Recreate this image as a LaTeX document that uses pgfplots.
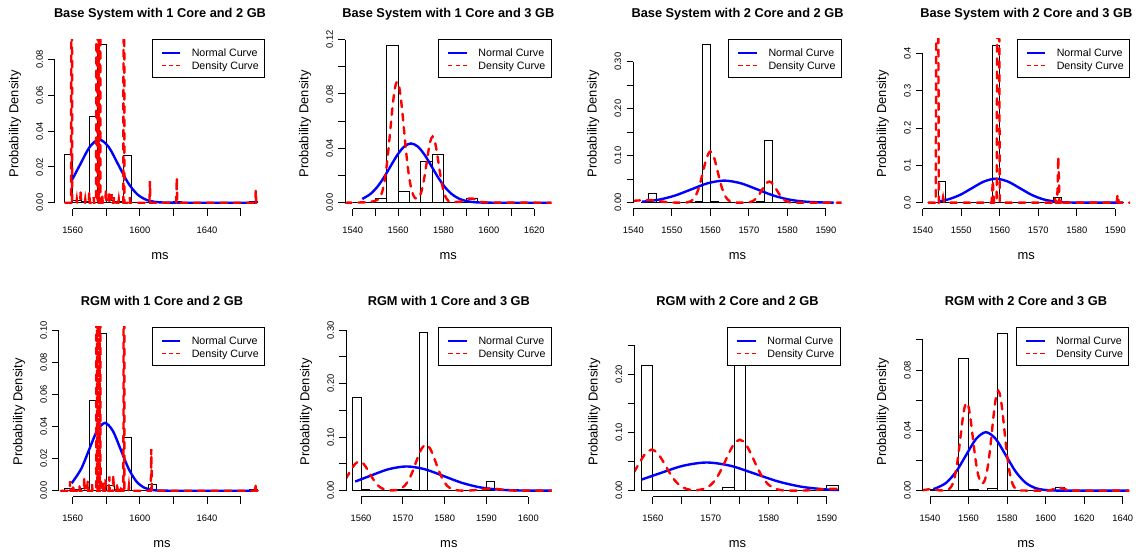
\documentclass[border=0pt]{standalone}
\usepackage{pgfplots}
\pgfplotsset{compat=1.18}
\usepackage{fontspec}
\setmainfont{Liberation Sans}
\definecolor{rred}{RGB}{255,0,0}
\definecolor{rblue}{RGB}{0,0,255}
\tikzset{axl/.style={black, line width=0.75pt}}
\pgfplotsset{
  rp/.style={
    scale only axis, height=127.5pt, anchor=south west,
    axis lines*=left, axis line style={draw=none,-},
    tick align=outside, major tick length=5pt, minor tick num=0,
    every tick/.style={black, line width=0.75pt},
    clip mode=individual, scaled ticks=false,
    xlabel={ms}, ylabel={Probability Density},
    label style={font=\fontsize{9.7}{11}\selectfont},
    x label style={at={([yshift=-35pt]axis description cs:0.5,0)}, anchor=center},
    y label style={at={([xshift=-30pt]axis description cs:0,0.5)}, anchor=center},
    title style={at={([yshift=10.2pt]axis description cs:0.5,1)}, anchor=base, font=\bfseries\fontsize{9.6}{11}\selectfont},
    tick label style={font=\fontsize{7}{8}\selectfont, inner sep=0pt},
    xticklabel style={anchor=north, yshift=-8.5pt},
    yticklabel style={rotate=90, anchor=south},
    yticklabel shift=3.8pt,
    legend style={at={(1,1)}, anchor=north east, draw=black, line width=0.75pt, fill=white,
      inner xsep=4.3pt, inner ysep=5pt, row sep=0.3pt, font=\fontsize{8}{9}\selectfont,
      nodes={inner sep=0pt, text height=7.9pt, text depth=1.3pt, anchor=base west}, /tikz/column sep=0pt},
    legend cell align=left,
  },
  hist/.style={ybar interval, draw=black, fill=none, line width=0.7pt},
  normal/.style={color=rblue, line width=1.8pt, smooth, no markers},
  dens/.style={color=rred, line width=1.8pt, line cap=round, dash pattern=on 5pt off 5pt, no markers},
}
\newcommand{\rlegend}{%
  \addlegendimage{legend image code/.code={\draw[rblue, solid, line width=1.1pt] (2.7pt,2.9pt) -- (16.7pt,2.9pt); \path[draw=none] (0pt,0pt) -- (25.4pt,0pt);}}
  \addlegendentry{Normal Curve}
  \addlegendimage{legend image code/.code={\draw[rred, solid, line width=1.3pt] (2.7pt,2.9pt) -- (5.9pt,2.9pt) (8.2pt,2.9pt) -- (11.4pt,2.9pt) (13.6pt,2.9pt) -- (16.7pt,2.9pt); \path[draw=none] (0pt,0pt) -- (25.4pt,0pt);}}
  \addlegendentry{Density Curve}}
\begin{document}
\begin{tikzpicture}
\useasboundingbox (0,0) rectangle (852pt,416.25pt);

% ---------- Panel 1 ----------
\begin{axis}[rp, at={(41.25pt,259.5pt)}, width=157.5pt,
  title={Base System with 1 Core and 2 GB},
  xmin=1549.5, xmax=1674.5, ymin=-0.0035, ymax=0.0915,
  xtick={1560,1580,1600,1620,1640,1660}, xticklabels={1560,,1600,,1640,},
  ytick={0,0.02,0.04,0.06,0.08}, yticklabels={0.00,0.02,0.04,0.06,0.08}]
\addplot[hist, forget plot] coordinates {(1555,0.0272) (1560,0.0013) (1565,0.0007) (1570,0.0481) (1575,0.0885) (1580,0.0013) (1585,0.0007) (1590,0.0262) (1595,0) (1600,0) (1605,0.0007) (1610,0) (1615,0) (1620,0.0007) (1625,0) (1630,0) (1635,0) (1640,0) (1645,0) (1650,0) (1655,0) (1660,0) (1665,0.0007) (1670,0)};
\addplot[normal, forget plot] coordinates {(1559.4,0.01232) (1564.5,0.02141) (1570.15,0.03115) (1575.8,0.0353) (1581.45,0.03115) (1587.1,0.02141) (1592.75,0.01146) (1598.4,0.00478) (1604.05,0.00155) (1609.7,0.00039) (1615.35,0.00008) (1621,0.00001) (1640,0) (1669.5,0)};
\addplot[dens, forget plot] coordinates {(1555.5,0) (1559.1,0) (1559.4,0.5) (1559.7,0) (1562.2,0) (1562.5,0.002) (1562.8,0) (1564.5,0) (1564.8,0.0075) (1565.1,0) (1567.2,0) (1567.5,0.002) (1567.8,0) (1569.6,0) (1569.9,0.006) (1570.2,0) (1572.2,0) (1572.5,0.003) (1572.8,0) (1574.0,0) (1574.3,0.5) (1574.6,0) (1575.0,0) (1575.3,0.5) (1575.6,0) (1576.0,0) (1576.3,0.5) (1576.6,0) (1577.3,0) (1577.6,0.004) (1577.9,0) (1579.5,0) (1579.8,0.0075) (1580.1,0) (1581.5,0) (1581.8,0.0066) (1582.1,0) (1582.9,0) (1583.2,0.0047) (1583.5,0) (1584.3,0) (1584.6,0.003) (1584.9,0) (1587.2,0) (1587.5,0.002) (1587.8,0) (1590.2,0) (1590.5,0.5) (1590.8,0) (1593.7,0) (1594,0.003) (1594.3,0) (1605.7,0) (1606,0.012) (1606.3,0) (1621.7,0) (1622,0.014) (1622.3,0) (1668.7,0) (1669,0.007) (1669.3,0) (1670.5,0)};
\rlegend
\draw[axl] ({axis cs:1560,0}|-{rel axis cs:0,0}) -- ({axis cs:1660,0}|-{rel axis cs:0,0});
\draw[axl] ({rel axis cs:0,0}|-{axis cs:1560,0}) -- ({rel axis cs:0,0}|-{axis cs:1560,0.08});
\end{axis}

% ---------- Panel 2 ----------
\begin{axis}[rp, at={(258.75pt,259.5pt)}, width=155pt,
  title={Base System with 1 Core and 3 GB},
  xmin=1536.6, xmax=1627.7, ymin=-0.0046, ymax=0.1204,
  xtick={1540,1550,1560,1570,1580,1590,1600,1610,1620}, xticklabels={1540,,1560,,1580,,1600,,1620},
  ytick={0,0.02,0.04,0.06,0.08,0.10,0.12}, yticklabels={0.00,,0.04,,0.08,,0.12}]
\addplot[hist, forget plot] coordinates {(1540,0) (1545,0) (1550,0.003) (1555,0.1158) (1560,0.0086) (1565,0) (1570,0.0303) (1575,0.0358) (1580,0) (1585,0) (1590,0.0032) (1595,0)};
\addplot[normal, forget plot] coordinates {(1544.2,0.00276) (1547.7,0.0063) (1550.7,0.01137) (1553.7,0.01845) (1556.7,0.0269) (1559.7,0.0352) (1562.7,0.0413) (1565.7,0.0436) (1568.7,0.0413) (1571.7,0.0352) (1574.7,0.0269) (1577.7,0.01845) (1580.7,0.01137) (1583.7,0.0063) (1586.7,0.00313) (1589.7,0.0014) (1592.7,0.00056) (1595.7,0.0002) (1601.7,0.00002) (1627.5,0)};
\addplot[dens, smooth, forget plot] coordinates {(1536.6,0) (1545,0.0003) (1549,0.001) (1551.6,0.0028) (1552.6,0.0059) (1553.6,0.012) (1554.6,0.0222) (1555.6,0.0366) (1556.6,0.054) (1557.6,0.0712) (1558.6,0.0842) (1559.6,0.089) (1560.6,0.0842) (1561.6,0.0712) (1562.6,0.054) (1563.6,0.0366) (1564.6,0.0222) (1565.6,0.012) (1566.6,0.006) (1567.6,0.0033) (1568.6,0.003) (1569.2,0.004) (1570.2,0.0076) (1571.2,0.0149) (1572.2,0.025) (1573.2,0.0362) (1574.2,0.0451) (1575.2,0.0486) (1576.2,0.0451) (1577.2,0.0362) (1578.2,0.025) (1579.2,0.0149) (1580.2,0.0076) (1581.2,0.0034) (1582.2,0.0013) (1584,0.0005) (1588,0.001) (1591,0.003) (1593,0.003) (1596,0.001) (1600,0.0002) (1627.7,0)};
\rlegend
\draw[axl] ({axis cs:1540,0}|-{rel axis cs:0,0}) -- ({axis cs:1620,0}|-{rel axis cs:0,0});
\draw[axl] ({rel axis cs:0,0}|-{axis cs:1540,0}) -- ({rel axis cs:0,0}|-{axis cs:1540,0.12});
\end{axis}

% ---------- Panel 3 ----------
\begin{axis}[rp, at={(475pt,259.5pt)}, width=156.3pt,
  title={Base System with 2 Core and 2 GB},
  xmin=1540, xmax=1594.1, ymin=-0.0134, ymax=0.3484,
  xtick={1540,1550,1560,1570,1580,1590}, xticklabels={1540,1550,1560,1570,1580,1590},
  ytick={0,0.05,0.10,0.15,0.20,0.25,0.30}, yticklabels={0.00,,0.10,,0.20,,0.30}]
\addplot[hist, forget plot] coordinates {(1542,0) (1544,0.019) (1546,0) (1548,0) (1550,0) (1552,0) (1554,0) (1556,0.002) (1558,0.3357) (1560,0.002) (1562,0) (1564,0) (1566,0) (1568,0) (1570,0) (1572,0.002) (1574,0.132) (1576,0) (1578,0) (1580,0) (1582,0) (1584,0) (1586,0) (1588,0) (1590,0) (1592,0)};
\addplot[normal, forget plot] coordinates {(1542.2,0.00197) (1546.6,0.00636) (1550.85,0.01526) (1555.1,0.02851) (1559.35,0.04148) (1563.6,0.047) (1567.85,0.04148) (1572.1,0.02851) (1576.35,0.01526) (1580.6,0.00636) (1584.85,0.00206) (1589.1,0.00052) (1592,0.00018)};
\addplot[dens, smooth, forget plot] coordinates {(1540,0.004) (1542,0.005) (1544.5,0.0055) (1547,0.003) (1549,0.001) (1551,0.0002) (1553,0.0001) (1554,0.0007) (1555,0.0034) (1556,0.0119) (1557,0.0313) (1558,0.0627) (1559,0.0949) (1560,0.109) (1561,0.0949) (1562,0.0627) (1563,0.0313) (1564,0.0119) (1565,0.0034) (1566,0.0007) (1567.5,0.0001) (1569.3,0.0003) (1570.3,0.0014) (1571.3,0.0049) (1572.3,0.0129) (1573.3,0.0259) (1574.3,0.0392) (1575.3,0.045) (1576.3,0.0392) (1577.3,0.0259) (1578.3,0.0129) (1579.3,0.0049) (1580.3,0.0014) (1581.3,0.0003) (1583,0) (1594.1,0)};
\rlegend
\draw[axl] ({axis cs:1540,0}|-{rel axis cs:0,0}) -- ({axis cs:1590,0}|-{rel axis cs:0,0});
\draw[axl] ({rel axis cs:0,0}|-{axis cs:1540,0}) -- ({rel axis cs:0,0}|-{axis cs:1540,0.30});
\end{axis}

% ---------- Panel 4 ----------
\begin{axis}[rp, at={(692pt,259.5pt)}, width=155.5pt,
  title={Base System with 2 Core and 3 GB},
  xmin=1540, xmax=1593.8, ymin=-0.0169, ymax=0.4389,
  xtick={1540,1550,1560,1570,1580,1590}, xticklabels={1540,1550,1560,1570,1580,1590},
  ytick={0,0.1,0.2,0.3,0.4}, yticklabels={0.0,0.1,0.2,0.3,0.4}]
\addplot[hist, forget plot] coordinates {(1542,0) (1544,0.0558) (1546,0) (1548,0) (1550,0) (1552,0) (1554,0) (1556,0) (1558,0.422) (1560,0) (1562,0) (1564,0) (1566,0) (1568,0) (1570,0) (1572,0) (1574,0.015) (1576,0) (1578,0) (1580,0) (1582,0) (1584,0) (1586,0) (1588,0) (1590,0.0015) (1592,0)};
\addplot[normal, forget plot] coordinates {(1544.2,0.0037) (1546.6,0.0087) (1549.7,0.02088) (1552.8,0.039) (1555.9,0.05674) (1559,0.0643) (1562.1,0.05674) (1565.2,0.039) (1568.3,0.02088) (1571.4,0.0087) (1574.5,0.00282) (1577.6,0.00071) (1580.7,0.00014) (1586,0.00001) (1592,0)};
\addplot[dens, forget plot] coordinates {(1541.5,0) (1543.4,0) (1543.8,1.5) (1544.2,0) (1545.0,0) (1545.3,0.015) (1545.6,0) (1557.9,0) (1558.2,0.06) (1558.5,0) (1559.2,0) (1559.6,1.5) (1560.0,0) (1574.0,0) (1574.3,0.012) (1574.6,0) (1574.9,0) (1575.2,0.123) (1575.5,0) (1575.8,0) (1576.1,0.01) (1576.4,0) (1590.3,0) (1590.6,0.022) (1590.9,0) (1593.8,0)};
\rlegend
\draw[axl] ({axis cs:1540,0}|-{rel axis cs:0,0}) -- ({axis cs:1590,0}|-{rel axis cs:0,0});
\draw[axl] ({rel axis cs:0,0}|-{axis cs:1540,0}) -- ({rel axis cs:0,0}|-{axis cs:1540,0.4});
\end{axis}

% ---------- Panel 5 ----------
\begin{axis}[rp, at={(44.25pt,43.5pt)}, width=154.5pt,
  title={RGM with 1 Core and 2 GB},
  xmin=1551.85, xmax=1674.5, ymin=-0.0039, ymax=0.1021,
  xtick={1560,1580,1600,1620,1640,1660}, xticklabels={1560,,1600,,1640,},
  ytick={0,0.02,0.04,0.06,0.08,0.10}, yticklabels={0.00,0.02,0.04,0.06,0.08,0.10}]
\addplot[hist, forget plot] coordinates {(1555,0.0016) (1560,0.0007) (1565,0.0013) (1570,0.056) (1575,0.098) (1580,0.003) (1585,0.001) (1590,0.0335) (1595,0) (1600,0) (1605,0.0036) (1610,0) (1615,0) (1620,0) (1625,0) (1630,0) (1635,0) (1640,0) (1645,0) (1650,0) (1655,0) (1660,0) (1665,0.0007) (1670,0)};
\addplot[normal, forget plot] coordinates {(1559.4,0.00466) (1565.1,0.01373) (1569.8,0.02565) (1574.5,0.03733) (1579.2,0.0423) (1583.9,0.03733) (1588.6,0.02565) (1593.3,0.01373) (1598,0.00572) (1602.7,0.00186) (1607.4,0.00047) (1612.1,0.00009) (1620,0.00001) (1640,0) (1669.5,0)};
\addplot[dens, forget plot] coordinates {(1553,0) (1558.2,0) (1558.5,0.006) (1558.8,0) (1560.0,0) (1560.3,0.004) (1560.6,0) (1563.7,0) (1564,0.003) (1564.3,0) (1566.6,0) (1566.9,0.0084) (1567.2,0) (1568.6,0) (1568.9,0.006) (1569.2,0) (1571.2,0) (1571.5,0.004) (1571.8,0) (1574.0,0) (1574.3,0.5) (1574.6,0) (1575.0,0) (1575.3,0.5) (1575.6,0) (1576.0,0) (1576.3,0.5) (1576.6,0) (1577.7,0) (1578,0.005) (1578.3,0) (1579.2,0) (1579.5,0.007) (1579.8,0) (1581.5,0) (1581.8,0.009) (1582.1,0) (1583.9,0) (1584.2,0.01) (1584.5,0) (1586.2,0) (1586.5,0.005) (1586.8,0) (1588.2,0) (1588.5,0.003) (1588.8,0) (1590.2,0) (1590.5,0.5) (1590.8,0) (1593.2,0) (1593.5,0.003) (1593.8,0) (1606.5,0) (1606.8,0.026) (1607.1,0) (1668.5,0) (1668.8,0.0046) (1669.1,0) (1670.5,0)};
\rlegend
\draw[axl] ({axis cs:1560,0}|-{rel axis cs:0,0}) -- ({axis cs:1660,0}|-{rel axis cs:0,0});
\draw[axl] ({rel axis cs:0,0}|-{axis cs:1560,0}) -- ({rel axis cs:0,0}|-{axis cs:1560,0.10});
\end{axis}

% ---------- Panel 6 ----------
\begin{axis}[rp, at={(259.5pt,43.5pt)}, width=154.3pt,
  title={RGM with 1 Core and 3 GB},
  xmin=1556.4, xmax=1605.6, ymin=-0.0118, ymax=0.306,
  xtick={1560,1570,1580,1590,1600}, xticklabels={1560,1570,1580,1590,1600},
  ytick={0,0.05,0.10,0.15,0.20,0.25,0.30}, yticklabels={0.00,,0.10,,0.20,,0.30}]
\addplot[hist, forget plot] coordinates {(1558,0.174) (1560,0.003) (1562,0) (1564,0) (1566,0) (1568,0.002) (1570,0.002) (1572,0) (1574,0.295) (1576,0) (1578,0) (1580,0) (1582,0) (1584,0) (1586,0) (1588,0) (1590,0.017) (1592,0)};
\addplot[normal, forget plot] coordinates {(1558.6,0.01706) (1562.1,0.02747) (1566.5,0.03998) (1570.9,0.0453) (1575.3,0.03998) (1579.7,0.02747) (1584.1,0.01471) (1588.5,0.00613) (1592.9,0.00199) (1597.3,0.0005) (1601.7,0.0001) (1605.6,0.00002)};
\addplot[dens, smooth, forget plot] coordinates {(1556.4,0.0225) (1557.6,0.0387) (1558.6,0.0502) (1559.6,0.0547) (1560.6,0.0502) (1561.6,0.0387) (1562.6,0.0251) (1563.6,0.0136) (1564.6,0.0062) (1565.6,0.0024) (1566.6,0.0008) (1567.6,0.0004) (1568.5,0.0012) (1569.5,0.0038) (1570.5,0.0098) (1571.5,0.0214) (1572.5,0.0394) (1573.5,0.0608) (1574.5,0.0789) (1575.5,0.086) (1576.5,0.0789) (1577.5,0.0608) (1578.5,0.0394) (1579.5,0.0214) (1580.5,0.0098) (1581.5,0.0038) (1582.5,0.0012) (1583.5,0.0003) (1586,0.0003) (1588,0.0018) (1590,0.0036) (1591,0.004) (1592,0.0036) (1594,0.0018) (1596,0.0004) (1598,0) (1605.6,0)};
\rlegend
\draw[axl] ({axis cs:1560,0}|-{rel axis cs:0,0}) -- ({axis cs:1600,0}|-{rel axis cs:0,0});
\draw[axl] ({rel axis cs:0,0}|-{axis cs:1560,0}) -- ({rel axis cs:0,0}|-{axis cs:1560,0.30});
\end{axis}

% ---------- Panel 7 ----------
\begin{axis}[rp, at={(475.7pt,43.5pt)}, width=154.8pt,
  title={RGM with 2 Core and 2 GB},
  xmin=1556.8, xmax=1592.4, ymin=-0.0108, ymax=0.281,
  xtick={1560,1565,1570,1575,1580,1585,1590}, xticklabels={1560,,1570,,1580,,1590},
  ytick={0,0.05,0.10,0.15,0.20,0.25}, yticklabels={0.00,,0.10,,0.20,}]
\addplot[hist, forget plot] coordinates {(1558,0.2145) (1560,0) (1562,0) (1564,0) (1566,0) (1568,0) (1570,0) (1572,0.005) (1574,0.27) (1576,0) (1578,0) (1580,0) (1582,0) (1584,0) (1586,0) (1588,0) (1590,0.0097) (1592,0)};
\addplot[normal, forget plot] coordinates {(1558.1,0.0192) (1561.06,0.02936) (1565.18,0.04271) (1569.3,0.0484) (1573.42,0.04271) (1577.54,0.02936) (1581.66,0.01572) (1585.78,0.00655) (1589.9,0.00212) (1592,0.00109)};
\addplot[dens, smooth, forget plot] coordinates {(1556.8,0.0323) (1557.8,0.0498) (1558.8,0.0646) (1559.8,0.0705) (1560.8,0.0646) (1561.8,0.0498) (1562.8,0.0323) (1563.8,0.0176) (1564.8,0.008) (1565.8,0.0031) (1566.8,0.001) (1567.5,0.0008) (1568,0.0014) (1569,0.0039) (1570,0.01) (1571,0.0218) (1572,0.0401) (1573,0.0619) (1574,0.0802) (1575,0.0875) (1576,0.0802) (1577,0.0619) (1578,0.0401) (1579,0.0218) (1580,0.01) (1581,0.0039) (1582,0.0012) (1583,0.0003) (1586,0.0003) (1588,0.0015) (1590,0.003) (1591,0.0033) (1592.4,0.0028)};
\rlegend
\draw[axl] ({axis cs:1560,0}|-{rel axis cs:0,0}) -- ({axis cs:1590,0}|-{rel axis cs:0,0});
\draw[axl] ({rel axis cs:0,0}|-{axis cs:1560,0}) -- ({rel axis cs:0,0}|-{axis cs:1560,0.25});
\end{axis}

% ---------- Panel 8 ----------
\begin{axis}[rp, at={(692pt,43.5pt)}, width=155pt,
  title={RGM with 2 Core and 3 GB},
  xmin=1536.2, xmax=1643.4, ymin=-0.0042, ymax=0.1086,
  xtick={1540,1560,1580,1600,1620,1640}, xticklabels={1540,1560,1580,1600,1620,1640},
  ytick={0,0.02,0.04,0.06,0.08,0.10}, yticklabels={0.00,,0.04,,0.08,}]
\addplot[hist, forget plot] coordinates {(1540,0.001) (1545,0) (1550,0) (1555,0.0878) (1560,0.0007) (1565,0) (1570,0.0016) (1575,0.1045) (1580,0) (1585,0) (1590,0) (1595,0) (1600,0) (1605,0.0024) (1610,0) (1615,0) (1620,0) (1625,0) (1630,0) (1635,0.0004) (1640,0)};
\addplot[normal, forget plot] coordinates {(1541.7,0.00116) (1543.25,0.0017) (1548.4,0.00525) (1553.55,0.0126) (1558.7,0.02353) (1563.85,0.03424) (1569,0.0388) (1574.15,0.03424) (1579.3,0.02353) (1584.45,0.0126) (1589.6,0.00525) (1594.75,0.0017) (1599.9,0.00043) (1605.05,0.00008) (1615,0) (1643,0)};
\addplot[dens, smooth, forget plot] coordinates {(1536.2,0.0003) (1540,0.001) (1542,0.0008) (1545,0.0002) (1547,0.0001) (1549,0.00044) (1550,0.00112) (1551,0.00256) (1552,0.00534) (1553,0.01007) (1554,0.01723) (1555,0.02675) (1556,0.03763) (1557,0.04804) (1558,0.0556) (1559,0.0584) (1560,0.0556) (1561,0.04804) (1562,0.03763) (1563,0.0268) (1564,0.01735) (1565,0.01041) (1566,0.00623) (1567,0.00467) (1568,0.00569) (1569,0.0094) (1570,0.0161) (1571,0.02573) (1572,0.03765) (1573,0.04997) (1574,0.06016) (1575,0.06568) (1575.4,0.0662) (1576,0.06505) (1577,0.05842) (1578,0.04759) (1579,0.03516) (1580,0.02356) (1581,0.01432) (1582,0.00789) (1583,0.00395) (1584,0.00179) (1585,0.00073) (1586,0.00027) (1588,0.0001) (1600,0) (1603,0.0005) (1605,0.0015) (1607,0.002) (1609,0.0015) (1611,0.0005) (1614,0) (1643.4,0)};
\rlegend
\draw[axl] ({axis cs:1540,0}|-{rel axis cs:0,0}) -- ({axis cs:1640,0}|-{rel axis cs:0,0});
\draw[axl] ({rel axis cs:0,0}|-{axis cs:1540,0}) -- ({rel axis cs:0,0}|-{axis cs:1540,0.10});
\end{axis}
\end{tikzpicture}
\end{document}
